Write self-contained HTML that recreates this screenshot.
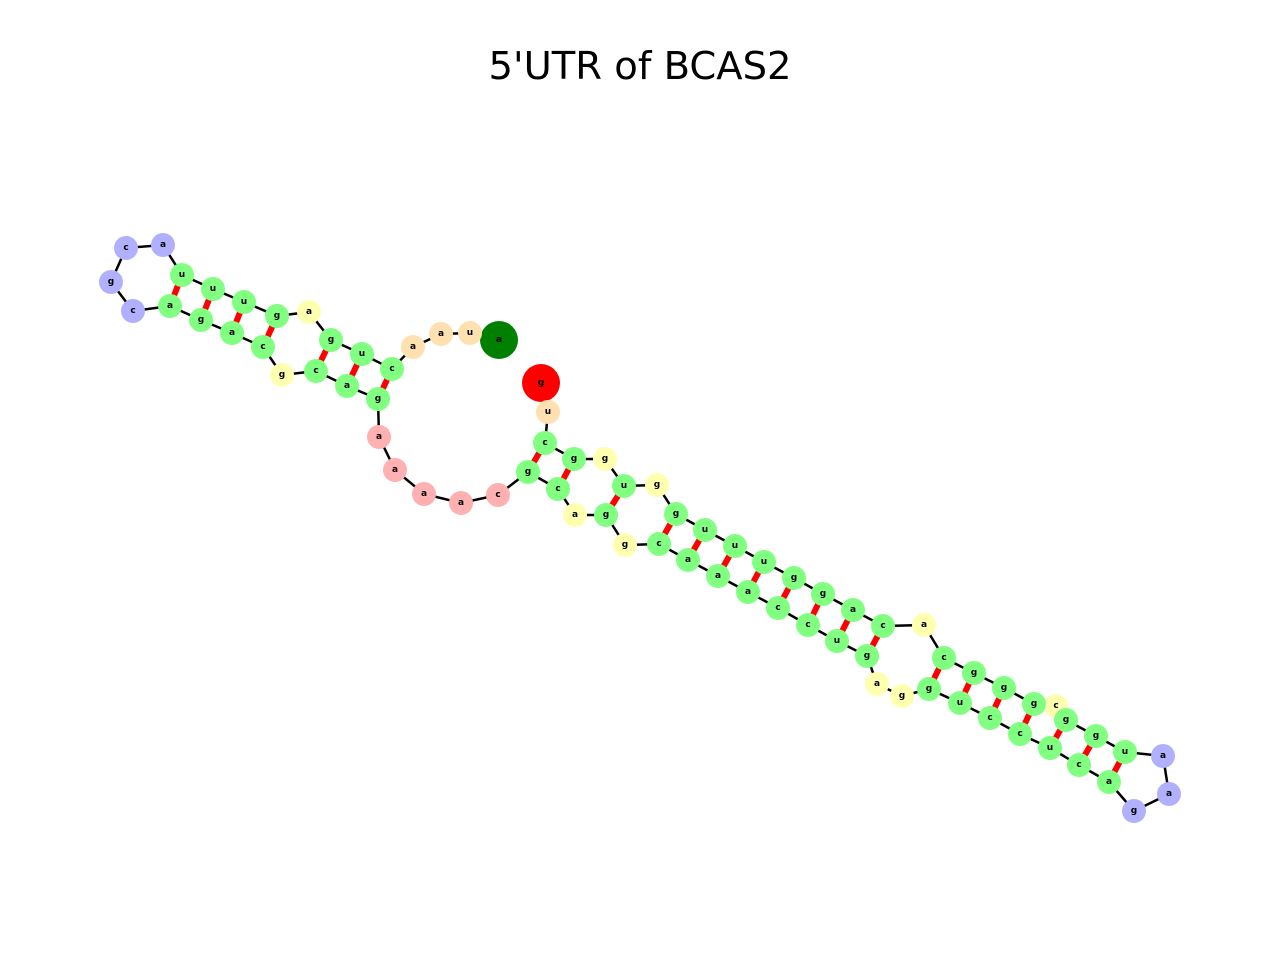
<!DOCTYPE html>
<html><head><meta charset="utf-8"><style>
html,body{margin:0;padding:0;background:#fff;}
svg{display:block;}
.t{font-family:"DejaVu Sans","Liberation Sans",sans-serif;}
.l{font-family:"DejaVu Sans","Liberation Sans",sans-serif;font-size:9px;font-weight:bold;text-anchor:middle;dominant-baseline:central;fill:#000;}
.G{fill:#80ff80}.Y{fill:#ffffb0}.B{fill:#b0b0ff}.P{fill:#ffb0b0}.O{fill:#ffe0b0}
</style></head><body>
<svg width="1280" height="960" viewBox="0 0 1280 960" xmlns="http://www.w3.org/2000/svg">
<text class="t" x="640" y="79" font-size="38.5" text-anchor="middle">5'UTR of BCAS2</text>
<g stroke="#ff0000" stroke-width="6">
<line x1="182" y1="275" x2="170" y2="306"/><line x1="213" y1="289" x2="201" y2="320"/><line x1="244" y1="302" x2="232" y2="333"/><line x1="277" y1="316" x2="263" y2="347"/>
<line x1="331" y1="340" x2="316" y2="371"/><line x1="362" y1="354" x2="347" y2="386"/><line x1="392" y1="369" x2="378" y2="399"/>
<line x1="528" y1="472" x2="545" y2="443"/><line x1="558" y1="489" x2="574" y2="459"/><line x1="606" y1="515" x2="624" y2="486"/>
<line x1="659" y1="544" x2="676" y2="514"/><line x1="688" y1="560" x2="705" y2="530"/><line x1="718" y1="576" x2="735" y2="546"/><line x1="748" y1="592" x2="764" y2="562"/>
<line x1="778" y1="608" x2="794" y2="578"/><line x1="808" y1="625" x2="823" y2="594"/><line x1="837" y1="641" x2="853" y2="610"/><line x1="867" y1="656" x2="883" y2="626"/>
<line x1="929" y1="689" x2="944" y2="658"/><line x1="960" y1="703" x2="974" y2="673"/><line x1="990" y1="718" x2="1004" y2="688"/><line x1="1020" y1="734" x2="1034" y2="704"/>
<line x1="1050" y1="748" x2="1066" y2="720"/><line x1="1079" y1="765" x2="1096" y2="736"/><line x1="1109" y1="782" x2="1125" y2="752"/>
</g>
<polyline fill="none" stroke="#000" stroke-width="2.5" points="499,340 470,333 441,334 413,347 392,369 362,354 331,340 309,312 277,316 244,302 213,289 182,275 163,245 126,248 111,282 133,311 170,306 201,320 232,333 263,347 282,375 316,371 347,386 378,399 379,437 395,470 424,494 461,503 498,495 528,472 558,489 575,515 606,515 625,545 659,544 688,560 718,576 748,592 778,608 808,625 837,641 867,656 877,684 902,696 929,689 960,703 990,718 1020,734 1050,748 1079,765 1109,782 1134,811 1169,794 1163,756 1125,752 1096,736 1066,720 1056,706 1034,704 1004,688 974,673 944,658 924,625 883,626 853,610 823,594 794,578 764,562 735,546 705,530 676,514 657,485 624,486 605,459 574,459 545,443 548,412 541,383"/>
<g>
<circle cx="499" cy="340" r="19" fill="#008000"/><text class="l" x="499" y="340">a</text>
<circle cx="541" cy="383" r="19" fill="#ff0000"/><text class="l" x="541" y="383">g</text>
</g>
<g>
<circle class="O" cx="470" cy="333" r="12"/><text class="l" x="470" y="333">u</text>
<circle class="O" cx="441" cy="334" r="12"/><text class="l" x="441" y="334">a</text>
<circle class="O" cx="413" cy="347" r="12"/><text class="l" x="413" y="347">a</text>
<circle class="G" cx="392" cy="369" r="12"/><text class="l" x="392" y="369">c</text>
<circle class="G" cx="362" cy="354" r="12"/><text class="l" x="362" y="354">u</text>
<circle class="G" cx="331" cy="340" r="12"/><text class="l" x="331" y="340">g</text>
<circle class="Y" cx="309" cy="312" r="12"/><text class="l" x="309" y="312">a</text>
<circle class="G" cx="277" cy="316" r="12"/><text class="l" x="277" y="316">g</text>
<circle class="G" cx="244" cy="302" r="12"/><text class="l" x="244" y="302">u</text>
<circle class="G" cx="213" cy="289" r="12"/><text class="l" x="213" y="289">u</text>
<circle class="G" cx="182" cy="275" r="12"/><text class="l" x="182" y="275">u</text>
<circle class="B" cx="163" cy="245" r="12"/><text class="l" x="163" y="245">a</text>
<circle class="B" cx="126" cy="248" r="12"/><text class="l" x="126" y="248">c</text>
<circle class="B" cx="111" cy="282" r="12"/><text class="l" x="111" y="282">g</text>
<circle class="B" cx="133" cy="311" r="12"/><text class="l" x="133" y="311">c</text>
<circle class="G" cx="170" cy="306" r="12"/><text class="l" x="170" y="306">a</text>
<circle class="G" cx="201" cy="320" r="12"/><text class="l" x="201" y="320">g</text>
<circle class="G" cx="232" cy="333" r="12"/><text class="l" x="232" y="333">a</text>
<circle class="G" cx="263" cy="347" r="12"/><text class="l" x="263" y="347">c</text>
<circle class="Y" cx="282" cy="375" r="12"/><text class="l" x="282" y="375">g</text>
<circle class="G" cx="316" cy="371" r="12"/><text class="l" x="316" y="371">c</text>
<circle class="G" cx="347" cy="386" r="12"/><text class="l" x="347" y="386">a</text>
<circle class="G" cx="378" cy="399" r="12"/><text class="l" x="378" y="399">g</text>
<circle class="P" cx="379" cy="437" r="12"/><text class="l" x="379" y="437">a</text>
<circle class="P" cx="395" cy="470" r="12"/><text class="l" x="395" y="470">a</text>
<circle class="P" cx="424" cy="494" r="12"/><text class="l" x="424" y="494">a</text>
<circle class="P" cx="461" cy="503" r="12"/><text class="l" x="461" y="503">a</text>
<circle class="P" cx="498" cy="495" r="12"/><text class="l" x="498" y="495">c</text>
<circle class="G" cx="528" cy="472" r="12"/><text class="l" x="528" y="472">g</text>
<circle class="G" cx="558" cy="489" r="12"/><text class="l" x="558" y="489">c</text>
<circle class="Y" cx="575" cy="515" r="12"/><text class="l" x="575" y="515">a</text>
<circle class="G" cx="606" cy="515" r="12"/><text class="l" x="606" y="515">g</text>
<circle class="Y" cx="625" cy="545" r="12"/><text class="l" x="625" y="545">g</text>
<circle class="G" cx="659" cy="544" r="12"/><text class="l" x="659" y="544">c</text>
<circle class="G" cx="688" cy="560" r="12"/><text class="l" x="688" y="560">a</text>
<circle class="G" cx="718" cy="576" r="12"/><text class="l" x="718" y="576">a</text>
<circle class="G" cx="748" cy="592" r="12"/><text class="l" x="748" y="592">a</text>
<circle class="G" cx="778" cy="608" r="12"/><text class="l" x="778" y="608">c</text>
<circle class="G" cx="808" cy="625" r="12"/><text class="l" x="808" y="625">c</text>
<circle class="G" cx="837" cy="641" r="12"/><text class="l" x="837" y="641">u</text>
<circle class="G" cx="867" cy="656" r="12"/><text class="l" x="867" y="656">g</text>
<circle class="Y" cx="877" cy="684" r="12"/><text class="l" x="877" y="684">a</text>
<circle class="Y" cx="902" cy="696" r="12"/><text class="l" x="902" y="696">g</text>
<circle class="G" cx="929" cy="689" r="12"/><text class="l" x="929" y="689">g</text>
<circle class="G" cx="960" cy="703" r="12"/><text class="l" x="960" y="703">u</text>
<circle class="G" cx="990" cy="718" r="12"/><text class="l" x="990" y="718">c</text>
<circle class="G" cx="1020" cy="734" r="12"/><text class="l" x="1020" y="734">c</text>
<circle class="G" cx="1050" cy="748" r="12"/><text class="l" x="1050" y="748">u</text>
<circle class="G" cx="1079" cy="765" r="12"/><text class="l" x="1079" y="765">c</text>
<circle class="G" cx="1109" cy="782" r="12"/><text class="l" x="1109" y="782">a</text>
<circle class="B" cx="1134" cy="811" r="12"/><text class="l" x="1134" y="811">g</text>
<circle class="B" cx="1169" cy="794" r="12"/><text class="l" x="1169" y="794">a</text>
<circle class="B" cx="1163" cy="756" r="12"/><text class="l" x="1163" y="756">a</text>
<circle class="G" cx="1125" cy="752" r="12"/><text class="l" x="1125" y="752">u</text>
<circle class="G" cx="1096" cy="736" r="12"/><text class="l" x="1096" y="736">g</text>
<circle class="Y" cx="1056" cy="706" r="12"/><text class="l" x="1056" y="706">c</text>
<circle class="G" cx="1066" cy="720" r="12"/><text class="l" x="1066" y="720">g</text>
<circle class="G" cx="1034" cy="704" r="12"/><text class="l" x="1034" y="704">g</text>
<circle class="G" cx="1004" cy="688" r="12"/><text class="l" x="1004" y="688">g</text>
<circle class="G" cx="974" cy="673" r="12"/><text class="l" x="974" y="673">g</text>
<circle class="G" cx="944" cy="658" r="12"/><text class="l" x="944" y="658">c</text>
<circle class="Y" cx="924" cy="625" r="12"/><text class="l" x="924" y="625">a</text>
<circle class="G" cx="883" cy="626" r="12"/><text class="l" x="883" y="626">c</text>
<circle class="G" cx="853" cy="610" r="12"/><text class="l" x="853" y="610">a</text>
<circle class="G" cx="823" cy="594" r="12"/><text class="l" x="823" y="594">g</text>
<circle class="G" cx="794" cy="578" r="12"/><text class="l" x="794" y="578">g</text>
<circle class="G" cx="764" cy="562" r="12"/><text class="l" x="764" y="562">u</text>
<circle class="G" cx="735" cy="546" r="12"/><text class="l" x="735" y="546">u</text>
<circle class="G" cx="705" cy="530" r="12"/><text class="l" x="705" y="530">u</text>
<circle class="G" cx="676" cy="514" r="12"/><text class="l" x="676" y="514">g</text>
<circle class="Y" cx="657" cy="485" r="12"/><text class="l" x="657" y="485">g</text>
<circle class="G" cx="624" cy="486" r="12"/><text class="l" x="624" y="486">u</text>
<circle class="Y" cx="605" cy="459" r="12"/><text class="l" x="605" y="459">g</text>
<circle class="G" cx="574" cy="459" r="12"/><text class="l" x="574" y="459">g</text>
<circle class="G" cx="545" cy="443" r="12"/><text class="l" x="545" y="443">c</text>
<circle class="O" cx="548" cy="412" r="12"/><text class="l" x="548" y="412">u</text>
</g>
</svg>
</body></html>
